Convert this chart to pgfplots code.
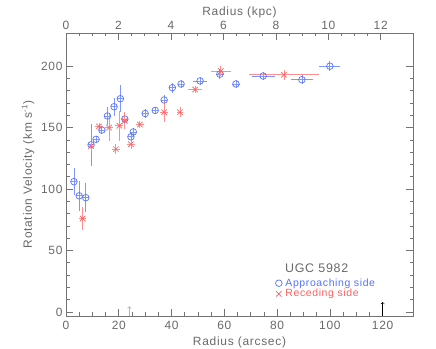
\documentclass[border=0pt]{standalone}
\usepackage{fontspec}
\setmainfont{Liberation Sans}[LetterSpace=6]
\usepackage{pgfplots}
\pgfplotsset{compat=1.18}

\definecolor{txt}{RGB}{105,105,105}
\definecolor{axc}{RGB}{115,115,115}
\definecolor{appr}{RGB}{85,115,255}
\definecolor{rece}{RGB}{255,95,95}

% radius (arcsec), velocity, radius error, velocity error
\pgfplotstableread{
x     y      ex    ey
3.0   106    1.2   11
5.0   94.5   1.2   12
7.5   93     1.2   12
9.5   136    1.2   17
11.4  140.5  1.2   3
13.6  148    1.2   3
15.7  159.5  1.2   7
18.2  167    1.2   7.5
20.6  173.5  1.2   11
22.3  157    1.2   4
24.6  142.5  1.2   3
25.5  146.5  1.2   3
30.0  161.5  1.2   3.5
33.8  164    1.2   3
37.2  172.5  1.2   4
40.3  182.5  1.2   4
43.6  185.5  1.2   3
50.8  188    2.5   3.5
58.3  193.5  1.5   4
64.4  185.5  1.5   3.5
74.7  192    4.4   3.5
89.4  189    4.1   3.5
100.0 200    4.0   4
}\approaching

\pgfplotstableread{
x     y      ex    ey
6.3   76     1.2   9
9.5   135    1.2   4
12.5  151    1.5   3
16.3  150    1.5   11
18.9  132.5  1.5   4
20.2  151.5  1.5   12
22.3  155.5  1.2   7
24.6  136.5  1.5   4
28.0  152.5  1.5   3
37.2  162.5  1.5   8
43.2  162.5  1.2   4
48.9  181    2.5   3
58.7  196    3.9   4
82.6  193    13.3  4
}\receding

\begin{document}
\begin{tikzpicture}
\useasboundingbox (-66bp,-33bp) rectangle (370bp,316bp);
\pgfplotsset{
  common/.style={
    scale only axis, width=347bp, height=283bp,
    axis line style={axc, line width=0.6pt},
    every tick/.append style={axc, line width=0.6pt},
    major tick length=7bp, minor tick length=3.5bp,
    /pgf/number format/assume math mode=true,
    tick label style={font=\fontsize{12}{14}\selectfont, text=txt},
    label style={font=\fontsize{12}{14}\selectfont, text=txt},
  }
}
\begin{axis}[common,
  xmin=0, xmax=131.5, ymin=-3.3, ymax=227,
  xtick={0,20,...,120}, minor x tick num=3,
  ytick={0,50,...,200}, minor y tick num=4,
  xtick pos=left, ytick pos=both,
  xticklabel style={yshift=-2bp},
  xlabel style={yshift=0bp},
  xlabel={Radius (arcsec)},
  ylabel={Rotation Velocity (km s\textsuperscript{-1})},
  clip=false,
  legend style={at={(axis cs:78.2,29.5)}, anchor=north west, draw=none, fill=none,
    font=\fontsize{10.5}{12}\selectfont, row sep=0pt,
    nodes={inner sep=0.8pt},
    /tikz/every odd column/.append style={column sep=2.5pt}},
  legend cell align=left,
  legend image code/.code={\draw[#1] plot coordinates {(0.1cm,0cm)};},
]
\addplot[only marks, appr, mark=o, mark size=3.3bp, mark options={line width=0.7pt},
  error bars/.cd, x dir=both, x explicit, y dir=both, y explicit,
  error mark=none, error bar style={appr!75!white, line width=0.8pt}]
  table[x=x, y=y, x error=ex, y error=ey] {\approaching};
\addlegendentry{\textcolor{appr}{Approaching side}}
\addplot[only marks, rece, mark=x, mark size=3.8bp, mark options={line width=0.7pt},
  error bars/.cd, x dir=both, x explicit, y dir=both, y explicit,
  error mark=none, error bar style={rece!70!white, line width=0.8pt}]
  table[x=x, y=y, x error=ex, y error=ey] {\receding};
\addlegendentry{\textcolor{rece}{Receding side}}
\node[text=txt, font=\fontsize{12.5}{14}\selectfont] at (axis cs:95,35.5) {UGC 5982};
\draw[->, black, line width=0.6pt] (axis cs:120,-3.3) -- (axis cs:120,8);
\draw[->, gray!60, line width=0.6pt] (axis cs:24,-3.3) -- (axis cs:24,4.5);
\end{axis}
\begin{axis}[common,
  xmin=0, xmax=13.23, ymin=0, ymax=1,
  axis x line*=top, axis y line=none,
  xtick={0,2,...,12}, minor x tick num=3,
  xlabel style={yshift=-4bp},
  xlabel={Radius (kpc)},
]
\end{axis}
\end{tikzpicture}
\end{document}
